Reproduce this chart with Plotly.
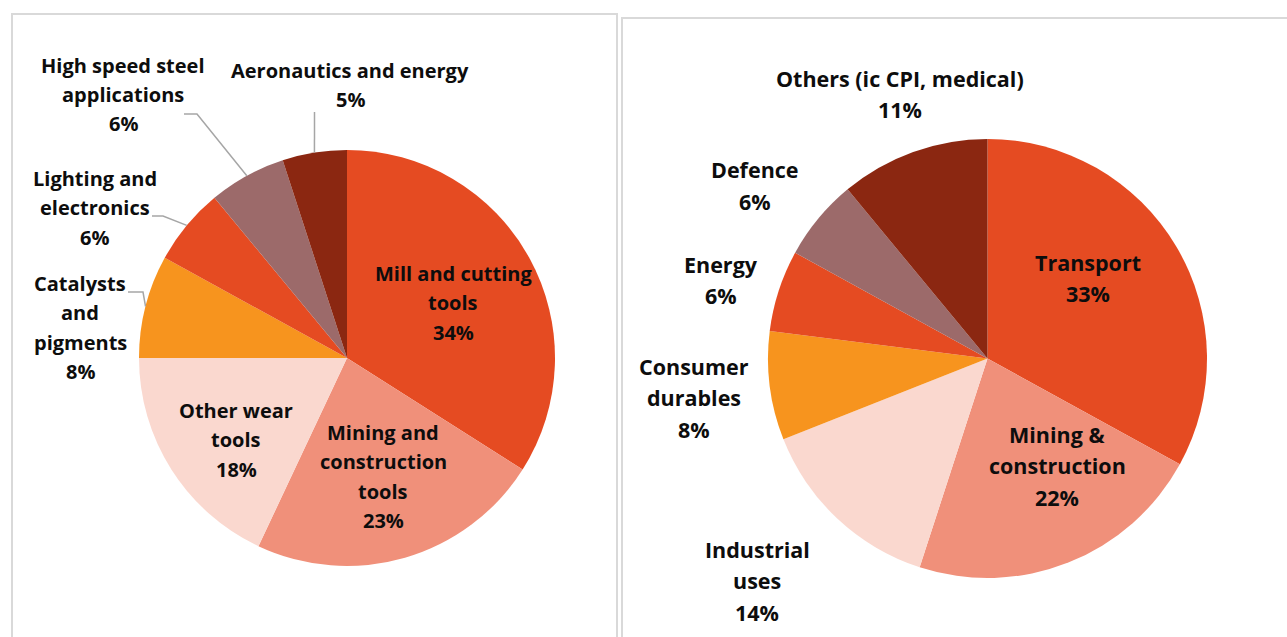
import math
import plotly.graph_objects as go

# data:

left_names = ["Mill and cutting tools", "Mining and construction tools", "Other wear tools",
              "Catalysts and pigments", "Lighting and electronics",
              "High speed steel applications", "Aeronautics and energy"]
left_values = [34, 23, 18, 8, 6, 6, 5]
left_lines = [["Mill and cutting", "tools"], ["Mining and", "construction", "tools"],
              ["Other wear", "tools"], ["Catalysts", "and", "pigments"],
              ["Lighting and", "electronics"], ["High speed steel", "applications"],
              ["Aeronautics and energy"]]

right_names = ["Transport", "Mining & construction", "Industrial uses", "Consumer durables",
               "Energy", "Defence", "Others (ic CPI, medical)"]
right_values = [33, 22, 14, 8, 6, 6, 11]
right_lines = [["Transport"], ["Mining &", "construction"], ["Industrial", "uses"],
               ["Consumer", "durables"], ["Energy"], ["Defence"], ["Others (ic CPI, medical)"]]

colors = ["#E54B22", "#F0907A", "#FAD8CF", "#F7941E", "#E54B22", "#9C6A6A", "#8B2711"]

# layout (pixels):

W, H = 1287, 637
left_center, left_r = (347, 358), 208
right_center, right_r = (987.5, 358.5), 219.5

# label anchor: x centre, y of first line
left_pos = [(453, 273), (383, 432), (236, 410), (80, 283), (95, 178), (123, 65), (350, 70)]
right_pos = [(1088, 262), (1057, 434), (757, 549), (694, 366), (721, 264), (755, 170), (900, 78)]

# leader lines: label-side points, the slice end is taken from the data
left_leaders = {3: [(128, 292), (143, 292)], 4: [(152, 216), (163, 216)],
                5: [(184, 114), (197, 114)], 6: [(314.5, 112)]}


def px(x, y):
    return x / W, 1 - y / H


def domain(center, r):
    cx, cy = px(*center)
    return dict(x=[cx - 1.1 * r / W, cx + 1.1 * r / W], y=[cy - r / H, cy + r / H])


def mid_point(values, i, center, r):
    tot = sum(values)
    a = (sum(values[:i]) + values[i] / 2) / tot * 2 * math.pi
    return center[0] + r * math.sin(a), center[1] - r * math.cos(a)


fig = go.Figure()

for names, values, center, r in [(left_names, left_values, left_center, left_r),
                                 (right_names, right_values, right_center, right_r)]:
    fig.add_trace(go.Pie(labels=names, values=values, sort=False, direction='clockwise',
                         rotation=0, textinfo='none', showlegend=False,
                         marker=dict(colors=colors, line=dict(width=0)),
                         domain=domain(center, r)))

annotations = []
for lines, values, pos, size, step in [(left_lines, left_values, left_pos, 20, 29.5),
                                       (right_lines, right_values, right_pos, 21.5, 31.5)]:
    for i, lab in enumerate(lines):
        rows = lab + ["%d%%" % values[i]]
        for k, row in enumerate(rows):
            x, y = px(pos[i][0], pos[i][1] + k * step)
            annotations.append(dict(x=x, y=y, xref='paper', yref='paper', text='<b>%s</b>' % row,
                                    showarrow=False, xanchor='center', yanchor='middle',
                                    font=dict(family='Open Sans', size=size, color='#0D0D0D')))

shapes = []
# panel frames
for x0, y0, x1, y1 in [(12, 14, 617, 660), (622, 18, 1310, 660)]:
    a, b = px(x0, y0)
    c, d = px(x1, y1)
    shapes.append(dict(type='rect', xref='paper', yref='paper', x0=a, y0=d, x1=c, y1=b,
                       line=dict(color='#D9D9D9', width=2), layer='below'))

for i, pts in left_leaders.items():
    end = mid_point(left_values, i, left_center, left_r)
    path = ' '.join(('M' if k == 0 else 'L') + ' %f,%f' % px(*p) for k, p in enumerate(pts + [end]))
    shapes.append(dict(type='path', xref='paper', yref='paper', path=path,
                       line=dict(color='#A6A6A6', width=1.5)))

fig.update_layout(width=W, height=H, margin=dict(l=0, r=0, t=0, b=0),
                  paper_bgcolor='white', plot_bgcolor='white',
                  annotations=annotations, shapes=shapes)

fig.write_html("out.html", config={'displayModeBar': False},
               post_script="document.body.style.margin='0';")
